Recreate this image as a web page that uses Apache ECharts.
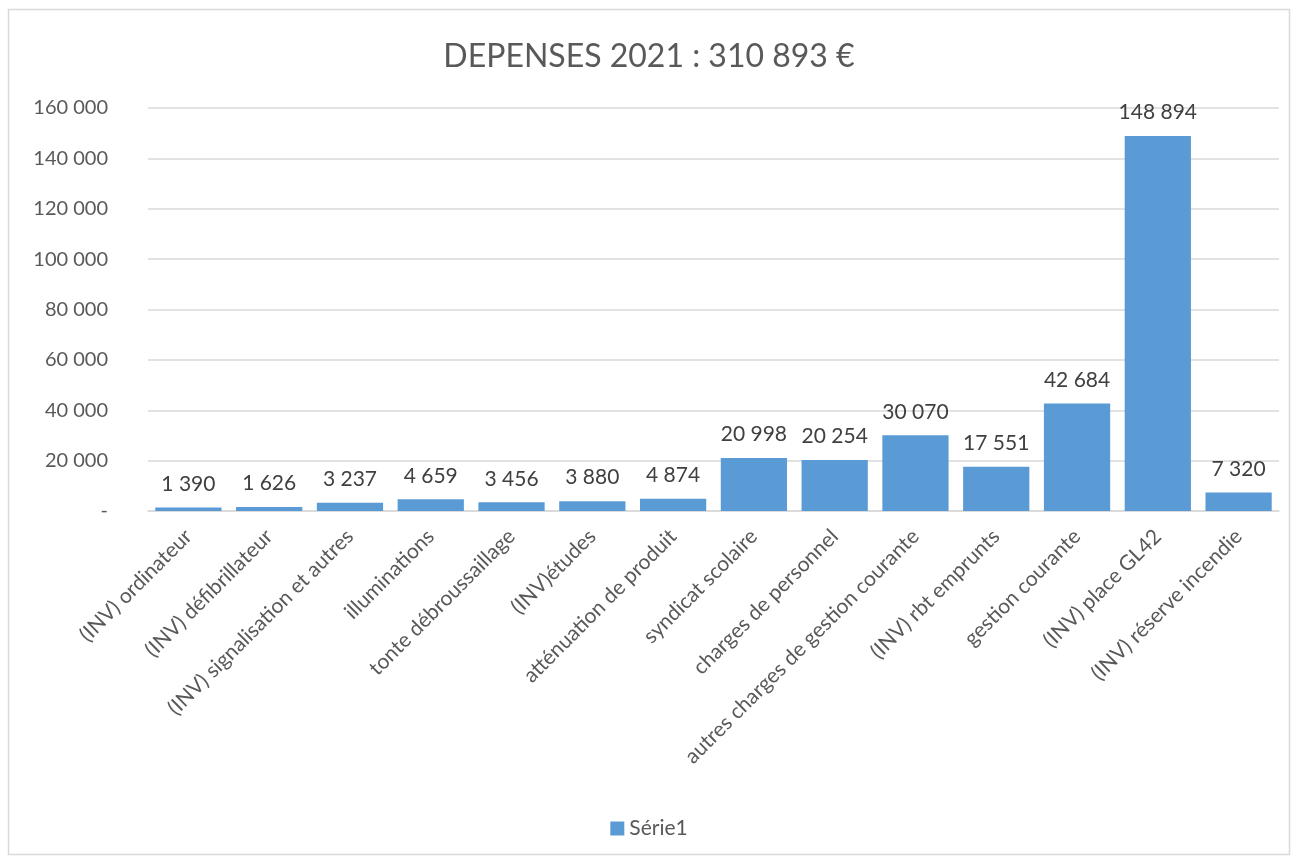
<!DOCTYPE html>
<html><head><meta charset="utf-8">
<script src="https://cdn.jsdelivr.net/npm/echarts@6/dist/echarts.min.js"></script>
<style>html,body{margin:0;padding:0;background:#fff}#c{width:1298px;height:862px}</style>
</head><body><div id="c"></div>
<script>
const categories = ["(INV) ordinateur","(INV) défibrillateur","(INV) signalisation et autres","illuminations","tonte débroussaillage","(INV)études","atténuation de produit","syndicat scolaire","charges de personnel","autres charges de gestion courante","(INV) rbt emprunts","gestion courante","(INV) place GL42","(INV) réserve incendie"];
const values = [1390,1626,3237,4659,3456,3880,4874,20998,20254,30070,17551,42684,148894,7320];
const yTicks = [0,20000,40000,60000,80000,100000,120000,140000,160000];
const titleText = "DEPENSES 2021 : 310 893 €";
const seriesName = "Série1";

function fmt(v){ if(v===0) return "-"; return String(v).replace(/\B(?=(\d{3})+(?!\d))/g," "); }
const FONT = "Lato, 'Open Sans', sans-serif";
const chart = echarts.init(document.getElementById('c'));
chart.setOption({
  animation:false,
  graphic:[{type:'rect',shape:{x:8.5,y:9.5,width:1281,height:845},style:{fill:'none',stroke:'#d9d9d9',lineWidth:1.5},silent:true}],
  title:{text:titleText,left:'center',top:36,textStyle:{fontFamily:FONT,fontSize:32,fontWeight:'normal',color:'#595959'}},
  grid:{left:148,right:19,top:108,bottom:351,containLabel:false},
  legend:{bottom:18,left:'center',icon:'rect',itemWidth:14,itemHeight:14,itemGap:6,textStyle:{fontFamily:FONT,fontSize:21,color:'#595959'},data:[seriesName]},
  xAxis:{type:'category',data:categories,
    axisLine:{lineStyle:{color:'#d9d9d9',width:1.5}},axisTick:{show:false},
    axisLabel:{rotate:45,interval:0,margin:22,fontFamily:FONT,fontSize:21,color:'#595959'}},
  yAxis:{type:'value',min:0,max:160000,interval:20000,
    axisLine:{show:false},axisTick:{show:false},
    splitLine:{lineStyle:{color:'#d9d9d9',width:1.5}},
    axisLabel:{formatter:fmt,fontFamily:FONT,fontSize:20,color:'#595959',margin:40}},
  series:[{name:seriesName,type:'bar',data:values,barCategoryGap:'18%',
    itemStyle:{color:'#5b9bd5'},
    label:{show:true,position:'top',distance:13,formatter:p=>fmt(p.value),fontFamily:FONT,fontSize:21,color:'#404040'}}]
});
</script></body></html>
